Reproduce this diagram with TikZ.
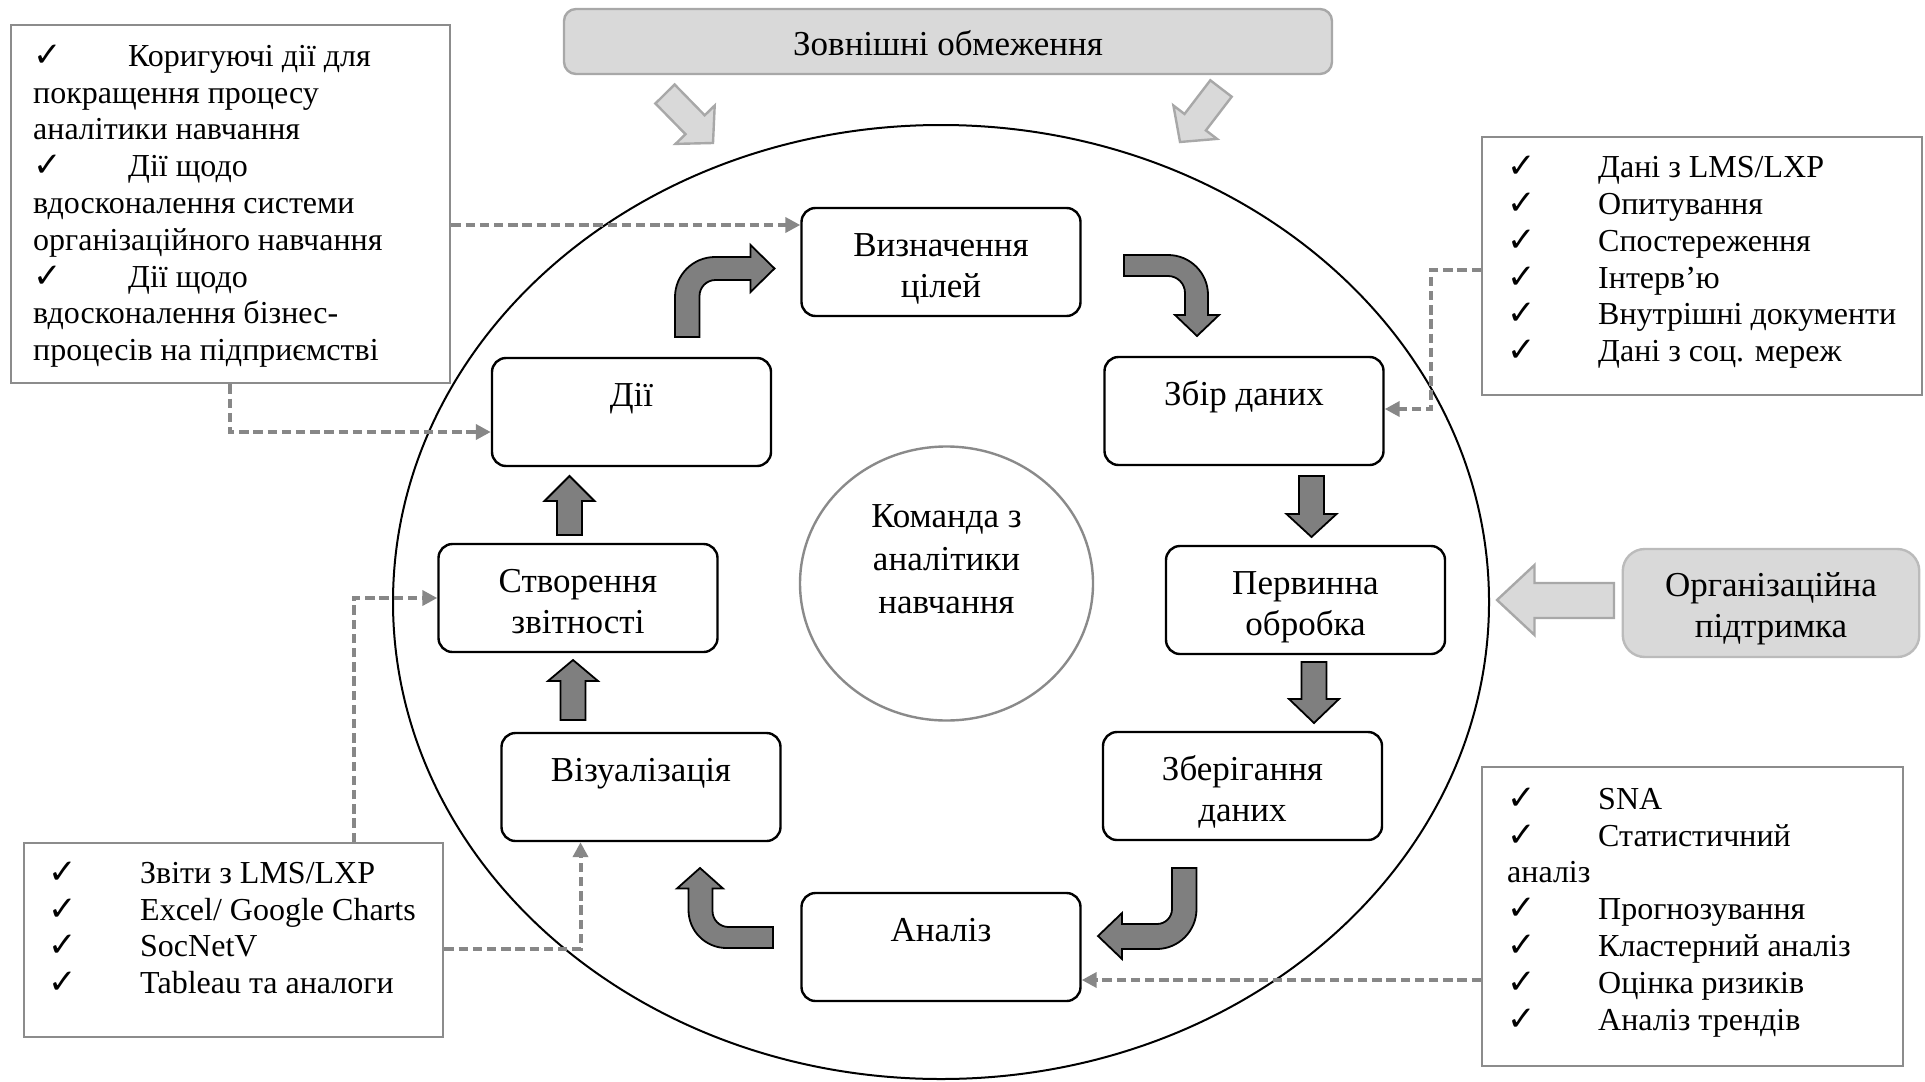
\documentclass[tikz,border=0pt]{standalone}
\usepackage{fontspec}
\setmainfont{Liberation Serif}
\newfontfamily\chkfont{DejaVu Sans}
\usetikzlibrary{arrows.meta,shapes.geometric,calc}

\definecolor{panelgray}{HTML}{D9D9D9}
\definecolor{panelline}{HTML}{A8A8A8}
\definecolor{orgline}{HTML}{BBBBBB}
\definecolor{flowgray}{HTML}{7F7F7F}
\definecolor{linkgray}{HTML}{878787}
\definecolor{framegray}{HTML}{8C8C8C}
\definecolor{teamgray}{HTML}{8A8A8A}

\newcommand\stepfont{\fontsize{17.5pt}{20.5pt}\selectfont}
\newcommand\teamfont{\fontsize{17.5pt}{21.5pt}\selectfont}
\newcommand\listfont{\fontsize{16pt}{18.4pt}\selectfont}
\newcommand\lbtick[1]{\makebox[#1][l]{\chkfont\fontsize{17pt}{17pt}\selectfont ✓}}
% first-line struts that set the text a little below the box centre
\newcommand\topstrut{\rule{0pt}{21.35pt}}
\newcommand\orgstrut{\rule{0pt}{20.35pt}}

% straight block arrow: centre x, shaft end, head base, tip
\newcommand\vflow[4]{%
  \draw[flow] (#1-12.5,#2) -- (#1+12.5,#2) -- (#1+12.5,#3) -- (#1+25,#3)
    -- (#1,#4) -- (#1-25,#3) -- (#1-12.5,#3) -- cycle;}

\begin{document}
\begin{tikzpicture}[x=0.5pt,y=-0.5pt,
  stepbox/.style={draw=black, line width=1.2pt, fill=white, rounded corners=7pt,
    minimum width=139.5pt, minimum height=54pt, inner sep=0pt, align=center,
    font=\stepfont},
  listbox/.style={draw=framegray, line width=1.2pt, fill=white, inner sep=0pt,
    anchor=north west},
  link/.style={draw=linkgray, line width=2pt, dash pattern=on 4.7pt off 2.4pt,
    -{Triangle[length=7.5pt,width=7.5pt]}},
  flow/.style={draw=black, line width=0.9pt, fill=flowgray, line join=miter},
  hollow/.style={draw=panelline, line width=1.2pt, fill=panelgray, line join=miter}]

\useasboundingbox (0,0) rectangle (1925,1081);

% outer ring of the cycle
\node[ellipse, draw=black, line width=1pt, minimum width=548pt,
  minimum height=477pt, inner sep=0pt] (ring) at (941,602) {};

% central team
\node[ellipse, draw=teamgray, line width=1.2pt, fill=white, minimum width=146.5pt,
  minimum height=137pt, inner sep=0pt, align=center, font=\teamfont] (team)
  at (946.5,583.5) {\strut Команда з\\\strut аналітики\\\strut навчання\\\strut};

% cycle steps
\node[stepbox] (goals)    at (941,262)    {\topstrut Визначення\\\strut цілей};
\node[stepbox] (collect)  at (1244,411)   {\topstrut Збір даних\\\strut};
\node[stepbox] (prep)     at (1305.5,600) {\topstrut Первинна\\\strut обробка};
\node[stepbox] (store)    at (1242.5,786) {\topstrut Зберігання\\\strut даних};
\node[stepbox] (analysis) at (941,947)    {\topstrut Аналіз\\\strut};
\node[stepbox] (visual)   at (641,787)    {\topstrut Візуалізація\\\strut};
\node[stepbox] (report)   at (578,598)    {\topstrut Створення\\\strut звітності};
\node[stepbox] (acts)     at (631.5,412)  {\topstrut Дії\\\strut};

% external factors
\node[draw=panelline, fill=panelgray, line width=1.2pt, rounded corners=6pt,
  minimum width=384pt, minimum height=32.5pt, inner sep=0pt, font=\stepfont]
  (ext) at (948,41.5) {\rule{0pt}{14.5pt}Зовнішні обмеження};
\node[draw=orgline, fill=panelgray, line width=1.2pt, rounded corners=11pt,
  minimum width=148.25pt, minimum height=54pt, inner sep=0pt, align=center,
  font=\stepfont] (org) at (1771,603) {\orgstrut Організаційна\\\strut підтримка};

% hollow influence arrows
\draw[hollow] (655.4,103.5) -- (674.6,84.5) -- (704.7,115.3) -- (714.7,105.5)
  -- (713,143) -- (675.5,143.9) -- (685.5,134.2) -- cycle;
\draw[hollow] (1231.7,96.7) -- (1210.3,80.3) -- (1184.5,114) -- (1173.4,105.5)
  -- (1180,142) -- (1217,138.9) -- (1205.9,130.4) -- cycle;
\draw[hollow] (1614,583) -- (1534.5,583) -- (1534.5,565) -- (1497,600)
  -- (1534.5,635) -- (1534.5,618) -- (1614,618) -- cycle;

% cycle arrows
\draw[flow] (675,337) -- (675,297) arc[start angle=180, end angle=270, radius=40]
  -- (750.5,257) -- (750.5,245) -- (774.5,268.5) -- (750.5,292) -- (750.5,280)
  -- (715.5,280) arc[start angle=270, end angle=180, radius=16] -- (699.5,337) -- cycle;
\draw[flow] (1124,255) -- (1168,255) arc[start angle=270, end angle=360, radius=40]
  -- (1208,315) -- (1219,315) -- (1197,336) -- (1175,315) -- (1185,315)
  -- (1185,293) arc[start angle=0, end angle=-90, radius=17] -- (1124,276) -- cycle;
\vflow{1311.5}{476}{514}{537}
\vflow{1314}{662}{699}{723}
\draw[flow] (1172,868) -- (1196.5,868) -- (1196.5,909)
  arc[start angle=0, end angle=90, radius=40] -- (1122,949) -- (1122,959)
  -- (1098,936) -- (1122,913) -- (1122,924) -- (1157,924)
  arc[start angle=90, end angle=0, radius=15] -- cycle;
\draw[flow] (773,948) -- (726.5,948) arc[start angle=90, end angle=180, radius=38]
  -- (688.5,888.5) -- (677,888.5) -- (700,868) -- (723,888.5) -- (712.5,888.5)
  -- (712.5,911) arc[start angle=180, end angle=90, radius=16] -- (773,927) -- cycle;
\vflow{573}{720}{681}{660}
\vflow{569.5}{535}{501}{476}

% lists of actions, sources, methods and tools
\node[listbox] (lbox) at (10,24) {\parbox[c][179pt][t]{219.5pt}{\raggedright
  \leftskip=11pt\listfont\rule{0pt}{20.5pt}\lbtick{47.5pt}Коригуючі дії для\\
  покращення процесу\\
  аналітики навчання\\
  \lbtick{47.5pt}Дії щодо\\
  вдосконалення системи\\
  організаційного навчання\\
  \lbtick{47.5pt}Дії щодо\\
  вдосконалення бізнес-\\
  процесів на підприємстві}};

\node[listbox] (dbox) at (1481,136) {\parbox[c][129pt][t]{220pt}{\raggedright
  \leftskip=12.5pt\listfont\rule{0pt}{20.25pt}\lbtick{45.5pt}Дані з LMS/LXP\\
  \lbtick{45.5pt}Опитування\\
  \lbtick{45.5pt}Спостереження\\
  \lbtick{45.5pt}Інтерв’ю\\
  \lbtick{45.5pt}Внутрішні документи\\
  \lbtick{45.5pt}Дані з соц. мереж}};

\node[listbox] (abox) at (1481,766) {\parbox[c][149.5pt][t]{210.5pt}{\raggedright
  \leftskip=12.5pt\listfont\rule{0pt}{21pt}\lbtick{45.5pt}SNA\\
  \lbtick{45.5pt}Статистичний\\
  аналіз\\
  \lbtick{45.5pt}Прогнозування\\
  \lbtick{45.5pt}Кластерний аналіз\\
  \lbtick{45.5pt}Оцінка ризиків\\
  \lbtick{45.5pt}Аналіз трендів}};

\node[listbox] (vbox) at (23,842) {\parbox[c][97pt][t]{209.5pt}{\raggedright
  \leftskip=12pt\listfont\rule{0pt}{20pt}\lbtick{46pt}Звіти з LMS/LXP\\
  \lbtick{46pt}Excel/ Google Charts\\
  \lbtick{46pt}SocNetV\\
  \lbtick{46pt}Tableau та аналоги}};

% dashed links from the lists to the steps
\coordinate (laneA) at (0,225);
\draw[link] (lbox.east |- laneA) -- (goals.west |- laneA);
\coordinate (laneB) at (230,432);
\draw[link] (lbox.south -| laneB) |- (acts.west |- laneB);
\coordinate (bendC) at (1431,270);
\coordinate (laneC) at (0,409);
\draw[link] (dbox.west |- bendC) -- (bendC) |- (collect.east |- laneC);
\coordinate (laneD) at (0,980);
\draw[link] (abox.west |- laneD) -- (analysis.east |- laneD);
\coordinate (bendE) at (353.6,597);
\draw[link] (vbox.north -| bendE) |- (report.west);
\coordinate (bendF) at (580.5,949);
\draw[link] (vbox.east |- bendF) -| (visual.south -| bendF);

\end{tikzpicture}
\end{document}
